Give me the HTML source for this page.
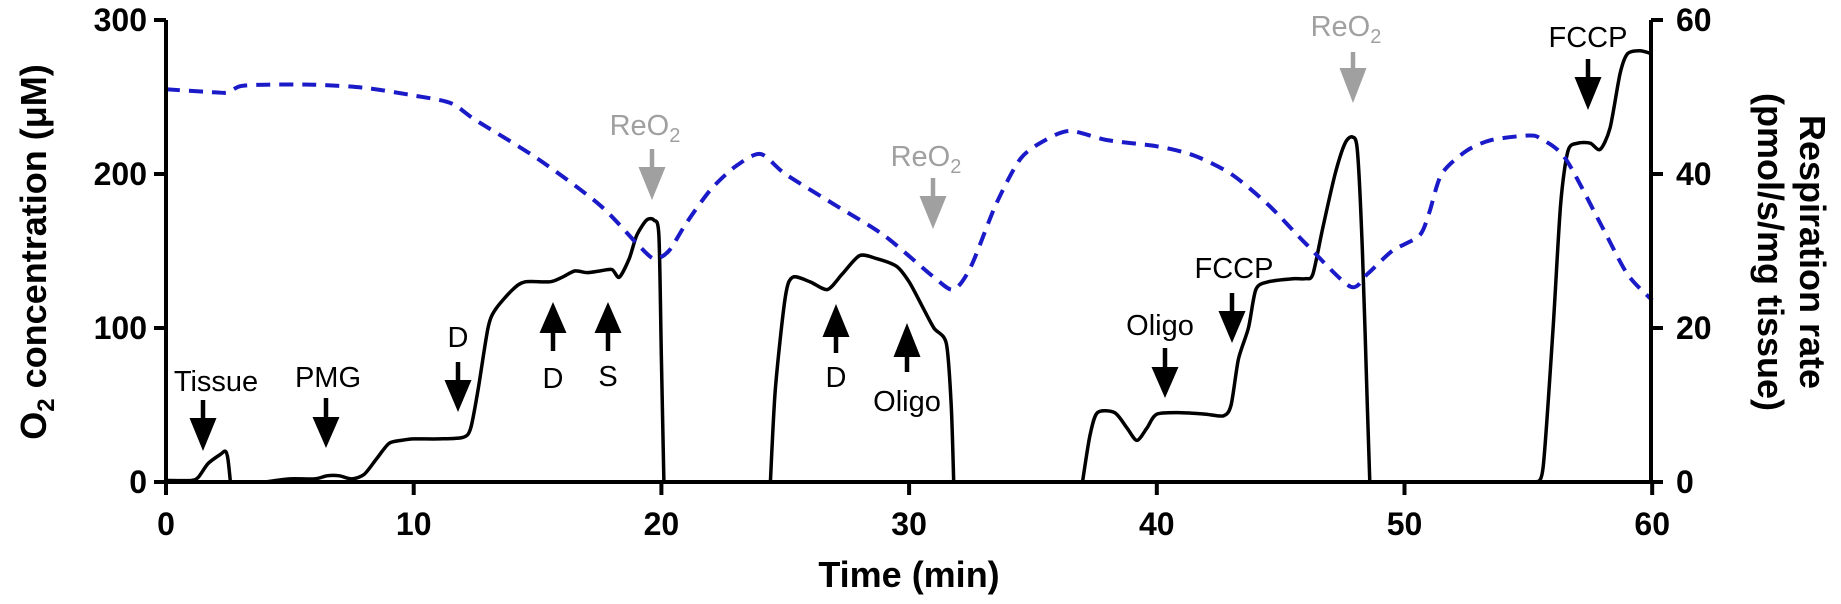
<!DOCTYPE html>
<html><head><meta charset="utf-8"><style>
html,body{margin:0;padding:0;background:#fff;}
svg{display:block;font-family:"Liberation Sans",sans-serif;}
</style></head><body>
<svg id="s" width="1841" height="604" viewBox="0 0 1841 604" xmlns="http://www.w3.org/2000/svg"></svg>
<script>
const X=t=>166+t*24.77, Y=v=>482-v*1.54;
const s=document.getElementById('s');let h='';
function path(pts,attr){
 const P=pts.map(p=>[X(p[0]),Y(p[1])]);
 let d='M'+P[0][0].toFixed(1)+','+P[0][1].toFixed(1);
 for(let i=0;i<P.length-1;i++){
  const p0=P[Math.max(i-1,0)],p1=P[i],p2=P[i+1],p3=P[Math.min(i+2,P.length-1)];
  const k=1/6*0.8;
  const c1=[p1[0]+(p2[0]-p0[0])*k,p1[1]+(p2[1]-p0[1])*k];
  const c2=[p2[0]-(p3[0]-p1[0])*k,p2[1]-(p3[1]-p1[1])*k];
  d+='C'+c1.map(n=>n.toFixed(1))+' '+c2.map(n=>n.toFixed(1))+' '+p2.map(n=>n.toFixed(1));
 }
 return '<path d="'+d+'" fill="none" '+attr+'/>';}
const segs=[
[[0,1],[1,1],[1.3,3],[1.7,12],[2.2,18],[2.4,20],[2.5,15],[2.6,0]],
[[4.0,0],[5,2],[6,2],[6.5,4],[7,4],[7.5,2],[8,5],[8.5,15],[9,25],[9.5,27],[10,28],[11,28],[12,29],[12.3,35],[12.6,60],[13,100],[13.3,112],[14,125],[14.5,130],[15.5,130],[16,133],[16.5,137],[17,136],[17.5,137],[18,138],[18.3,133],[18.7,145],[19,160],[19.4,170],[19.7,170],[19.9,160],[20,80],[20.1,0]],
[[24.4,0],[24.6,60],[25,120],[25.3,133],[26,130],[26.7,125],[27.3,135],[28,147],[28.7,145],[29.5,140],[30,130],[30.5,115],[31,100],[31.5,90],[31.7,50],[31.8,0]],
[[37,0],[37.3,30],[37.6,45],[38.3,45],[38.8,35],[39.2,27],[39.6,35],[40,44],[41,45],[42,44],[42.7,43],[43,50],[43.3,80],[43.7,100],[44,125],[44.5,130],[45.5,132],[46,132],[46.3,135],[46.7,165],[47.2,200],[47.6,220],[47.9,224],[48.1,215],[48.3,150],[48.5,50],[48.6,0]],
[[55.3,0],[55.6,10],[56,100],[56.3,180],[56.6,215],[57,220],[57.5,220],[57.9,216],[58.3,230],[58.7,265],[59,278],[59.5,280],[60,278]]];
segs.forEach(p=>h+=path(p,'stroke="#000" stroke-width="3.5" stroke-linejoin="round"'));
const blue=[[0,255],[2,253],[2.5,253],[3,257],[4,258],[6,258],[8,256],[10,251],[11.5,246],[12.5,235],[15,210],[17.5,180],[19,155],[19.7,145],[20.3,150],[21,168],[22,190],[23,205],[24,213],[25,200],[27,180],[29,160],[31,133],[31.8,125],[32.5,140],[33.5,180],[34.5,210],[35.5,222],[36.5,228],[38,222],[40,218],[41.5,212],[43,200],[44.5,180],[46,155],[47.8,127],[48.5,135],[49.5,150],[50.6,160],[51,175],[51.5,200],[52.5,215],[53.5,222],[55,225],[55.5,223],[56.5,210],[58,165],[59,135],[60,118]];
h+=path(blue,'stroke="#1a1ac8" stroke-width="4" stroke-dasharray="14,9"');
h+='<path d="M166,20V482H1651V20" fill="none" stroke="#000" stroke-width="4"/>';
h+='<g font-weight="bold" font-size="32" fill="#000">';
[0,100,200,300].forEach(v=>{h+='<line x1="154" x2="166" y1="'+Y(v)+'" y2="'+Y(v)+'" stroke="#000" stroke-width="4"/><text x="147" y="'+(Y(v)+11)+'" text-anchor="end">'+v+'</text>';});
[0,20,40,60].forEach(v=>{let y=Y(v*5);h+='<line x1="1651" x2="1663" y1="'+y+'" y2="'+y+'" stroke="#000" stroke-width="4"/><text x="1676" y="'+(y+11)+'">'+v+'</text>';});
for(let t=0;t<=60;t+=10){h+='<line x1="'+X(t)+'" x2="'+X(t)+'" y1="482" y2="495" stroke="#000" stroke-width="4"/><text x="'+X(t)+'" y="535" text-anchor="middle">'+t+'</text>';}
h+='</g>';
h+='<text x="909" y="587" text-anchor="middle" font-weight="bold" font-size="36">Time (min)</text>';
h+='<text transform="translate(46,252) rotate(-90)" text-anchor="middle" font-weight="bold" font-size="36">O<tspan font-size="24" dy="8">2</tspan><tspan dy="-8"> concentration (μM)</tspan></text>';
h+='<text transform="translate(1800,252) rotate(90)" text-anchor="middle" font-weight="bold" font-size="36">Respiration rate</text>';
h+='<text transform="translate(1758,252) rotate(90)" text-anchor="middle" font-weight="bold" font-size="36">(pmol/s/mg tissue)</text>';
// arrows in pixel coords: x, tail y, head base y, tip y
function arr(x,y1,hb,y2,col){return '<line x1="'+x+'" x2="'+x+'" y1="'+y1+'" y2="'+hb+'" stroke="'+col+'" stroke-width="4.5"/><polygon points="'+(x-13.5)+','+hb+' '+(x+13.5)+','+hb+' '+x+','+y2+'" fill="'+col+'"/>';}
function lab(x,y,txt,col,sub){return '<text x="'+x+'" y="'+y+'" text-anchor="middle" font-size="29" fill="'+col+'">'+txt+(sub?'<tspan font-size="20" dy="7">2</tspan>':'')+'</text>';}
const K='#000',G='#a0a0a0';
h+=arr(203,400,418,451,K)+lab(216,391,'Tissue',K);
h+=arr(326,398,417,448,K)+lab(328,387,'PMG',K);
h+=arr(458,362,380,412,K)+lab(458,347,'D',K);
h+=arr(553,351,333,302,K)+lab(553,388,'D',K);
h+=arr(608,351,333,302,K)+lab(608,386,'S',K);
h+=arr(652,149,167,200,G)+lab(645,135,'ReO',G,1);
h+=arr(836,353,337,304,K)+lab(836,387,'D',K);
h+=arr(907,372,357,323,K)+lab(907,411,'Oligo',K);
h+=arr(933,178,196,229,G)+lab(926,166,'ReO',G,1);
h+=arr(1165,348,367,398,K)+lab(1160,335,'Oligo',K);
h+=arr(1232,293,311,343,K)+lab(1234,278,'FCCP',K);
h+=arr(1353,52,68,103,G)+lab(1346,36,'ReO',G,1);
h+=arr(1588,59,77,110,K)+lab(1588,47,'FCCP',K);
s.innerHTML=h;
</script>
</body></html>
